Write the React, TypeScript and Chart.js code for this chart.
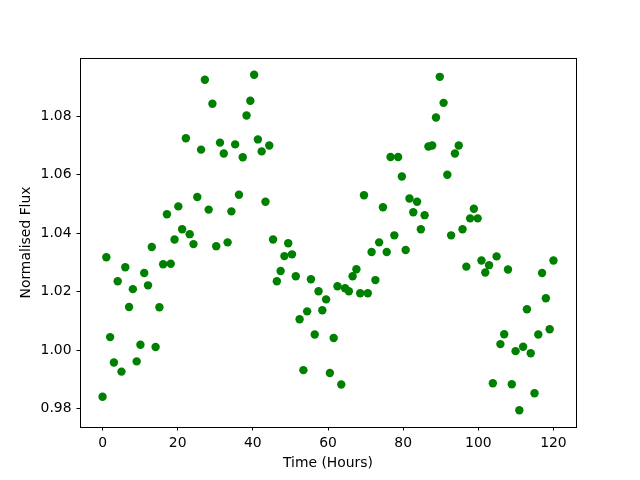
import React, { useEffect, useRef } from "react";
import { Chart, registerables } from "chart.js";

Chart.register(...registerables);

const timeHours = [
  0, 1.01, 2.02, 3.03, 4.03, 5.04, 6.05, 7.06, 8.07, 9.08,
  10.08, 11.09, 12.1, 13.11, 14.12, 15.13, 16.13, 17.14, 18.15, 19.16,
  20.17, 21.18, 22.18, 23.19, 24.2, 25.21, 26.22, 27.23, 28.24, 29.24,
  30.25, 31.26, 32.27, 33.28, 34.29, 35.29, 36.3, 37.31, 38.32, 39.33,
  40.34, 41.34, 42.35, 43.36, 44.37, 45.38, 46.39, 47.39, 48.4, 49.41,
  50.42, 51.43, 52.44, 53.45, 54.45, 55.46, 56.47, 57.48, 58.49, 59.5,
  60.5, 61.51, 62.52, 63.53, 64.54, 65.55, 66.55, 67.56, 68.57, 69.58,
  70.59, 71.6, 72.61, 73.61, 74.62, 75.63, 76.64, 77.65, 78.66, 79.66,
  80.67, 81.68, 82.69, 83.7, 84.71, 85.71, 86.72, 87.73, 88.74, 89.75,
  90.76, 91.76, 92.77, 93.78, 94.79, 95.8, 96.81, 97.82, 98.82, 99.83,
  100.84, 101.85, 102.86, 103.87, 104.87, 105.88, 106.89, 107.9, 108.91, 109.92,
  110.92, 111.93, 112.94, 113.95, 114.96, 115.97, 116.97, 117.98, 118.99, 120,
];

const normalisedFlux = [
  0.9841, 1.0318, 1.0045, 0.9958, 1.0236, 0.9927, 1.0284, 1.0148, 1.0209, 0.9962,
  1.0019, 1.0264, 1.0222, 1.0353, 1.0011, 1.0147, 1.0294, 1.0465, 1.0296, 1.0379,
  1.0492, 1.0414, 1.0725, 1.0397, 1.0363, 1.0524, 1.0686, 1.0925, 1.0481, 1.0843,
  1.0356, 1.071, 1.0673, 1.0369, 1.0475, 1.0704, 1.0532, 1.066, 1.0803, 1.0853,
  1.0942, 1.0721, 1.068, 1.0508, 1.07, 1.0379, 1.0236, 1.0271, 1.0322, 1.0366,
  1.0328, 1.0253, 1.0106, 0.9932, 1.0133, 1.0243, 1.0054, 1.0202, 1.0137, 1.0174,
  0.9922, 1.0042, 1.0219, 0.9883, 1.0212, 1.0202, 1.0253, 1.0277, 1.0195, 1.053,
  1.0195, 1.0336, 1.024, 1.0369, 1.0489, 1.0336, 1.0661, 1.0393, 1.0661, 1.0594,
  1.0343, 1.0519, 1.0472, 1.0508, 1.0414, 1.0462, 1.0697, 1.07, 1.0796, 1.0935,
  1.0846, 1.06, 1.0393, 1.0673, 1.07, 1.0414, 1.0286, 1.0451, 1.0484, 1.0451,
  1.0307, 1.0266, 1.0291, 0.9887, 1.0321, 1.0021, 1.0055, 1.0276, 0.9884, 0.9997,
  0.9795, 1.0012, 1.014, 0.999, 0.9853, 1.0054, 1.0264, 1.0178, 1.0072, 1.0307,
];

const xTicks = [0, 20, 40, 60, 80, 100, 120];
const yTicks = [0.98, 1.0, 1.02, 1.04, 1.06, 1.08];

const X_MIN = -6;
const X_MAX = 126;
const Y_MIN = 0.97376;
const Y_MAX = 1.09994;

const FONT = "'DejaVu Sans', sans-serif";

const boxPlugin = {
  id: "axesBox",
  afterDraw(chart: any) {
    const { ctx, chartArea } = chart;
    ctx.save();
    ctx.strokeStyle = "#000";
    ctx.lineWidth = 1;
    ctx.strokeRect(
      Math.round(chartArea.left) + 0.5,
      Math.round(chartArea.top) + 0.5,
      Math.round(chartArea.right - chartArea.left),
      Math.round(chartArea.bottom - chartArea.top)
    );
    ctx.restore();
  },
};

export default function App() {
  const ref = useRef<HTMLCanvasElement | null>(null);

  useEffect(() => {
    if (!ref.current) return;
    const points = timeHours.map((t, i) => ({ x: t, y: normalisedFlux[i] }));
    const chart = new Chart(ref.current, {
      type: "scatter",
      data: {
        datasets: [
          {
            data: points,
            backgroundColor: "#008000",
            borderWidth: 0,
            pointRadius: 4.2,
            pointHoverRadius: 4.2,
          },
        ],
      },
      options: {
        responsive: false,
        animation: false,
        events: [],
        layout: { padding: { left: 0, right: 64, top: 58, bottom: 0 } },
        plugins: {
          legend: { display: false },
          tooltip: { enabled: false },
        },
        scales: {
          x: {
            type: "linear",
            min: X_MIN,
            max: X_MAX,
            afterBuildTicks: (scale: any) => {
              scale.ticks = xTicks.map((v) => ({ value: v }));
            },
            afterFit: (scale: any) => {
              scale.height = 53;
            },
            border: { display: false },
            grid: {
              display: true,
              drawOnChartArea: false,
              drawTicks: true,
              tickLength: 3.5,
              color: "#000",
              lineWidth: 1,
            },
            ticks: {
              color: "#000",
              font: { family: FONT, size: 13.9 },
              padding: 5,
              maxRotation: 0,
              autoSkip: false,
              callback: (v: any) => String(v),
            },
            title: {
              display: true,
              text: "Time (Hours)",
              color: "#000",
              font: { family: FONT, size: 13.9 },
              padding: { top: 0, bottom: 8 },
            },
          },
          y: {
            type: "linear",
            min: Y_MIN,
            max: Y_MAX,
            afterBuildTicks: (scale: any) => {
              scale.ticks = yTicks.map((v) => ({ value: v }));
            },
            afterFit: (scale: any) => {
              scale.width = 80;
            },
            border: { display: false },
            grid: {
              display: true,
              drawOnChartArea: false,
              drawTicks: true,
              tickLength: 3.5,
              color: "#000",
              lineWidth: 1,
            },
            ticks: {
              color: "#000",
              font: { family: FONT, size: 13.9 },
              padding: 5,
              autoSkip: false,
              callback: (v: any) => Number(v).toFixed(2),
            },
            title: {
              display: true,
              text: "Normalised Flux",
              color: "#000",
              font: { family: FONT, size: 13.9 },
              padding: { top: 18, bottom: 0 },
            },
          },
        },
      },
      plugins: [boxPlugin],
    } as any);
    return () => chart.destroy();
  }, []);

  return (
    <div style={{ position: "absolute", left: 0, top: 0, width: 640, height: 480, background: "#fff" }}>
      <canvas ref={ref} width={640} height={480} style={{ display: "block" }} />
    </div>
  );
}
